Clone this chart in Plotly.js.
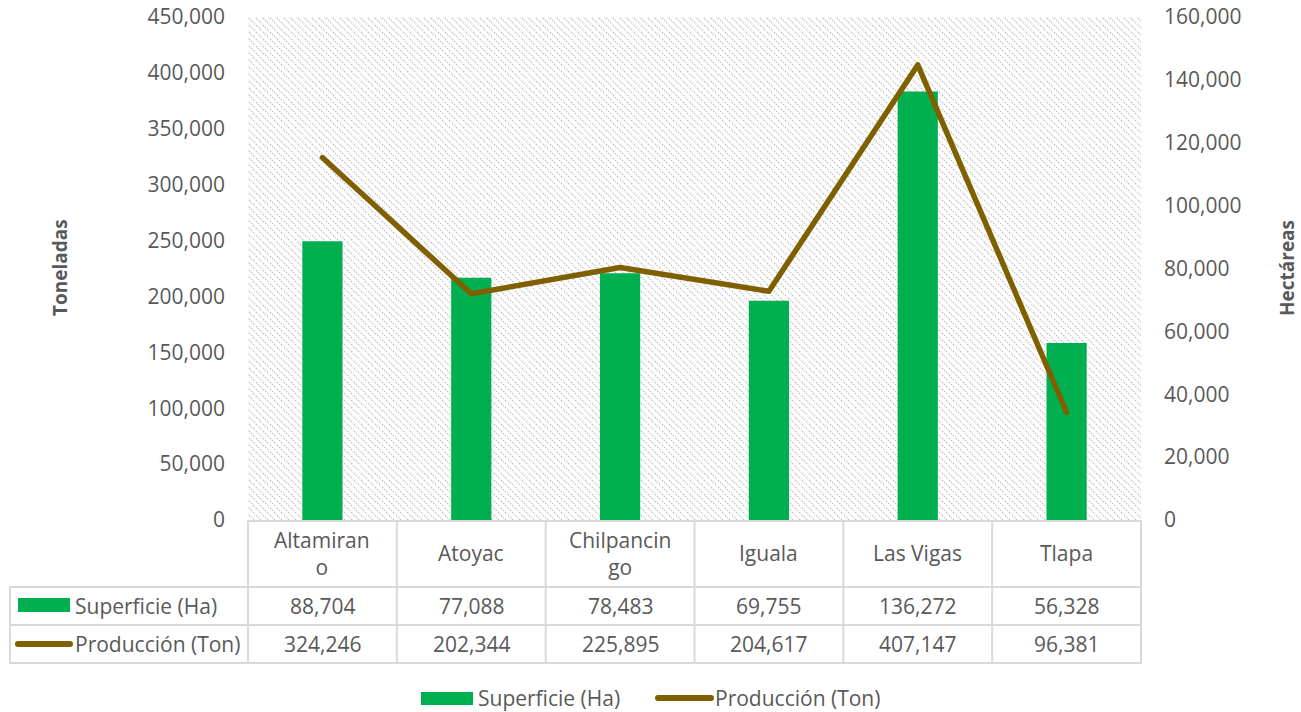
<!DOCTYPE html>
<html>
<head>
<meta charset="utf-8">
<script src="https://cdn.plot.ly/plotly-3.0.1.min.js"></script>
<style>html,body{margin:0;padding:0;background:#fff;}#chart{width:1301px;height:712px;}</style>
</head>
<body>
<div id="chart"></div>
<script>
// ---- Data ----
var categories = ["Altamirano", "Atoyac", "Chilpancingo", "Iguala", "Las Vigas", "Tlapa"];
var categoryLabels = ["Altamiran<br>o", "Atoyac", "Chilpancin<br>go", "Iguala", "Las Vigas", "Tlapa"];
var superficieHa = [88704, 77088, 78483, 69755, 136272, 56328];
var produccionTon = [324246, 202344, 225895, 204617, 407147, 96381];
var seriesNames = ["Superficie (Ha)", "Producción (Ton)"];
var leftTicks = [0, 50000, 100000, 150000, 200000, 250000, 300000, 350000, 400000, 450000];
var rightTicks = [0, 20000, 40000, 60000, 80000, 100000, 120000, 140000, 160000];

// ---- Styling ----
var GREEN = "#00B050", BROWN = "#7F6000", TXT = "#595959", GRID = "#d9d9d9";
var FONT = "'Open Sans', 'Noto Sans', sans-serif";
var FS = 21;
var W = 1301, H = 712, L = 248, R = 1141, T = 17, B = 520;
function py(pix) { return (B - pix) / (B - T); } // pixel y -> paper y
function px(pix) { return (pix - L) / (R - L); } // pixel x -> paper x
function fmt(v) { return v.toLocaleString("en-US"); }

var traces = [
  {
    type: "bar", name: seriesNames[0], x: categories, y: superficieHa,
    xaxis: "x", yaxis: "y", width: 0.27,
    marker: {color: GREEN}, showlegend: false, hoverinfo: "x+y"
  },
  {
    type: "scatter", mode: "lines", name: seriesNames[1], x: categories, y: produccionTon,
    xaxis: "x", yaxis: "y2",
    line: {color: BROWN, width: 5.5}, showlegend: false, hoverinfo: "x+y"
  }
];

// Hatched background pattern
var svgPat = "<svg xmlns='http://www.w3.org/2000/svg' width='" + (R - L) + "' height='" + (B - T) + "'>" +
  "<defs><pattern id='p' width='7' height='7' patternUnits='userSpaceOnUse'>" +
  "<path d='M-1,-1 L8,8 M-8,-1 L1,8 M6,-1 L15,8' stroke='#c6c6c6' stroke-width='1.5' stroke-dasharray='1.6,1.2'/></pattern></defs>" +
  "<rect width='100%' height='100%' fill='url(#p)'/></svg>";
var imgSrc = "data:image/svg+xml;charset=utf-8," + encodeURIComponent(svgPat);

var shapes = [];
var annotations = [];
function hline(y, x0, x1) {
  shapes.push({type: "line", xref: "paper", yref: "paper", x0: px(x0), x1: px(x1), y0: py(y), y1: py(y),
    line: {color: GRID, width: 2}});
}
function vline(x, y0, y1) {
  shapes.push({type: "line", xref: "paper", yref: "paper", x0: px(x), x1: px(x), y0: py(y0), y1: py(y1),
    line: {color: GRID, width: 2}});
}
function txt(xref, x, y, text, xanchor, extra) {
  var a = {xref: xref, yref: "paper", x: x, y: y, text: text, showarrow: false,
    xanchor: xanchor || "center", yanchor: "middle",
    font: {family: FONT, size: FS, color: TXT}};
  if (extra) for (var k in extra) a[k] = extra[k];
  annotations.push(a);
}
// table grid
hline(521, L, R);
hline(587, 10, R);
hline(625, 10, R);
hline(663, 10, R);
var colW = (R - L) / categories.length;
for (var i = 0; i <= categories.length; i++) vline(L + i * colW, 521, 663);
vline(10, 587, 663);

// table text
for (var j = 0; j < categories.length; j++) {
  txt("x", categories[j], py(553), categoryLabels[j], "center", {align: "center"});
  txt("x", categories[j], py(606), fmt(superficieHa[j]), "center");
  txt("x", categories[j], py(644), fmt(produccionTon[j]), "center");
}
// table legend keys
shapes.push({type: "rect", xref: "paper", yref: "paper", x0: px(18), x1: px(70), y0: py(598), y1: py(612),
  fillcolor: GREEN, line: {width: 0}});
shapes.push({type: "line", xref: "paper", yref: "paper", x0: px(18), x1: px(70), y0: py(644), y1: py(644),
  line: {color: BROWN, width: 6}});
txt("paper", px(73), py(606), seriesNames[0], "left");
txt("paper", px(73), py(644), seriesNames[1], "left");

// bottom legend
shapes.push({type: "rect", xref: "paper", yref: "paper", x0: px(421), x1: px(473), y0: py(692), y1: py(705),
  fillcolor: GREEN, line: {width: 0}});
shapes.push({type: "line", xref: "paper", yref: "paper", x0: px(658), x1: px(711), y0: py(698), y1: py(698),
  line: {color: BROWN, width: 6}});
txt("paper", px(476), py(698), seriesNames[0], "left");
txt("paper", px(713), py(698), seriesNames[1], "left");

// axis titles
txt("paper", px(60), py(268), "<b>Toneladas</b>", "center", {textangle: -90, font: {family: FONT, size: 19, color: TXT}});
txt("paper", px(1287), py(268), "<b>Hectáreas</b>", "center", {textangle: -90, font: {family: FONT, size: 19, color: TXT}});

var layout = {
  width: W, height: H,
  margin: {l: L, r: W - R, t: T, b: H - B, pad: 0},
  paper_bgcolor: "#ffffff", plot_bgcolor: "rgba(0,0,0,0)",
  showlegend: false,
  images: [{source: imgSrc, xref: "paper", yref: "paper", x: 0, y: 1, sizex: 1, sizey: 1,
    sizing: "stretch", layer: "below", xanchor: "left", yanchor: "top"}],
  xaxis: {type: "category", showticklabels: false, showgrid: false, zeroline: false, showline: false,
    ticks: "", range: [-0.5, 5.5]},
  yaxis: {side: "right", range: [0, 160000], tickvals: rightTicks, ticktext: rightTicks.map(fmt),
    showgrid: false, zeroline: false, showline: false, ticks: "", ticklabelstandoff: 22,
    tickfont: {family: FONT, size: FS, color: TXT}},
  yaxis2: {side: "left", overlaying: "y", range: [0, 450000], tickvals: leftTicks, ticktext: leftTicks.map(fmt),
    showgrid: false, zeroline: false, showline: false, ticks: "", ticklabelstandoff: 22,
    tickfont: {family: FONT, size: FS, color: TXT}},
  shapes: shapes,
  annotations: annotations
};

Plotly.newPlot("chart", traces, layout, {displayModeBar: false, staticPlot: true}).then(function (gd) {
  var paths = gd.querySelectorAll(".scatterlayer path.js-line");
  paths.forEach(function (p) { p.style.strokeLinejoin = "round"; p.style.strokeLinecap = "round"; });
  var sh = gd.querySelectorAll(".shapelayer path");
  sh.forEach(function (p) { p.style.strokeLinecap = "round"; });
});
</script>
</body>
</html>
